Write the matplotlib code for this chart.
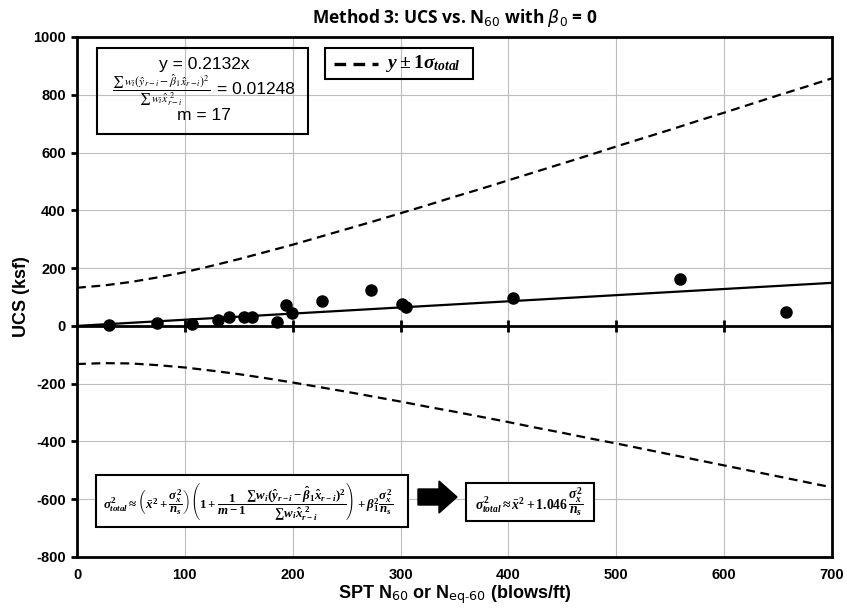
import matplotlib
matplotlib.use("Agg")
import matplotlib.pyplot as plt
from matplotlib.patches import Rectangle, FancyArrow

# measured points (SPT N60, UCS in ksf)
n60 = [30, 74, 107, 131, 141, 155, 162, 185, 194, 199, 227, 273, 301, 305, 404, 559, 657]
ucs = [2, 9, 6, 20, 30, 30, 30, 14, 74, 43, 87, 124, 75, 65, 96, 161, 48]

# fitted line y = 0.2132x, end points
fit_x = [0, 700]
fit_y = [0, 149]

# y +/- 1 sigma_total band, read every 25 blows/ft
band_x = [0, 25, 50, 75, 100, 125, 150, 175, 200, 225, 250, 275, 300, 325, 350,
          375, 400, 425, 450, 475, 500, 525, 550, 575, 600, 625, 650, 675, 700]
band_upper = [132, 140, 152, 168, 186, 208, 231, 256, 281, 308, 335, 362, 390, 418, 447,
              475, 504, 533, 562, 591, 621, 650, 679, 709, 738, 768, 798, 827, 857]
band_lower = [-132, -129, -130, -136, -144, -155, -167, -181, -196, -212, -228, -245, -262, -280, -297,
              -315, -333, -352, -370, -389, -407, -426, -445, -464, -483, -502, -521, -540, -559]

x_ticks = [0, 100, 200, 300, 400, 500, 600, 700]
y_ticks = [-800, -600, -400, -200, 0, 200, 400, 600, 800, 1000]

W, H = 847, 610


def fpos(px, py):
    # pixel position (from top-left) -> figure fraction
    return px / W, 1 - py / H


def box(left, top, right, bottom, fill=False):
    x0, y0 = fpos(left, bottom)
    x1, y1 = fpos(right, top)
    fig.add_artist(Rectangle((x0, y0), x1 - x0, y1 - y0, transform=fig.transFigure,
                             fill=fill, fc="white", ec="black", lw=1.5))


plt.rcParams["axes.unicode_minus"] = False
plt.rcParams["mathtext.fontset"] = "custom"
plt.rcParams["mathtext.rm"] = "Liberation Serif:bold"
plt.rcParams["mathtext.it"] = "Liberation Serif:bold:italic"
plt.rcParams["mathtext.bf"] = "Liberation Serif:bold"

fig = plt.figure(figsize=(W / 100, H / 100), dpi=100)
ax = fig.add_axes([77 / W, 1 - 557 / H, (832 - 77) / W, (557 - 37) / H])

ax.set_xlim(0, 700)
ax.set_ylim(-800, 1000)
ax.set_xticks(x_ticks)
ax.set_yticks(y_ticks)
ax.grid(True, color="#bdbdbd", linewidth=0.8, zorder=0)
ax.set_axisbelow(True)
for s in ax.spines.values():
    s.set_linewidth(2)
    s.set_color("black")

ax.tick_params(axis="x", length=0, pad=8)
ax.tick_params(axis="y", direction="out", length=4, width=2, pad=4)
for lab in ax.get_xticklabels() + ax.get_yticklabels():
    lab.set_fontfamily("Liberation Sans")
    lab.set_fontweight("bold")
    lab.set_fontsize(10.5)

# x axis drawn through zero with cross ticks
ax.axhline(0, color="black", linewidth=2, zorder=2)
ax.plot(x_ticks[1:], [0] * (len(x_ticks) - 1), ls="", marker="|", ms=8, mew=2,
        color="black", zorder=2)

ax.plot(band_x, band_upper, color="black", lw=1.6, dashes=(4, 2.5), zorder=3)
ax.plot(band_x, band_lower, color="black", lw=1.6, dashes=(4, 2.5), zorder=3)
ax.plot(fit_x, fit_y, color="black", lw=1.6, zorder=3)
ax.plot(n60, ucs, ls="", marker="o", ms=8, color="black", zorder=4)

ax.set_xlabel(r"SPT N$_{\mathsf{60}}$ or N$_{\mathsf{eq\text{-}60}}$ (blows/ft)", fontfamily="Liberation Sans",
              fontweight="bold", fontsize=13, labelpad=1)
ax.set_ylabel("UCS (ksf)", fontfamily="Liberation Sans", fontweight="bold", fontsize=13, labelpad=2)
ax.set_title(r"Method 3: UCS vs. N$_{\mathsf{60}}$ with $\beta_{\mathsf{0}}$ = 0", fontfamily="Open Sans",
             fontweight="bold", fontsize=12.5, pad=10, math_fontfamily="dejavusans")

# regression info box
box(97, 48, 308, 134)
fig.text(*fpos(204, 65), "y = 0.2132x", ha="center", va="center",
         fontfamily="Liberation Sans", fontsize=12.5)
fig.text(*fpos(161, 90),
         r"$\dfrac{\sum\, w_i(\hat{y}_{r-i}-\hat{\beta}_1\hat{x}_{r-i})^2}{\sum\, w_i\hat{x}_{r-i}^{\ 2}}$",
         ha="center", va="center", fontsize=8.5, math_fontfamily="stix")
fig.text(*fpos(217, 90), "= 0.01248", ha="left", va="center",
         fontfamily="Liberation Sans", fontsize=12.5)
fig.text(*fpos(204, 116), "m = 17", ha="center", va="center",
         fontfamily="Liberation Sans", fontsize=12.5)

# legend box
box(325, 48, 473, 79)
lx0, ly = fpos(334, 64)
lx1, _ = fpos(378, 64)
fig.add_artist(plt.Line2D([lx0, lx1], [ly, ly], transform=fig.transFigure,
                          color="black", lw=2.4, dashes=(3.5, 2.2)))
fig.text(*fpos(386, 64), r"$y \pm 1\sigma_{total}$", ha="left", va="center",
         fontsize=14, math_fontfamily="custom")

# sigma_total equations
box(96, 475, 408, 527, fill=True)
fig.text(*fpos(248, 501),
         r"$\sigma_{total}^2 \approx \left(\bar{x}^2+\dfrac{\sigma_x^2}{n_s}\right)"
         r"\left(1+\dfrac{1}{m-1}\dfrac{\sum w_i(\hat{y}_{r-i}-\hat{\beta}_1\hat{x}_{r-i})^2}"
         r"{\sum w_i\hat{x}_{r-i}^{\ 2}}\right)+\beta_1^2\dfrac{\sigma_x^2}{n_s}$",
         ha="center", va="center", fontsize=9.3, math_fontfamily="custom")

ax0, ay = fpos(418, 497)
ax1, _ = fpos(457, 497)
fig.add_artist(FancyArrow(ax0, ay, ax1 - ax0, 0, width=16 / H, head_width=32 / H,
                          head_length=18 / W, length_includes_head=True,
                          transform=fig.transFigure, color="black"))

box(466, 483, 594, 521, fill=True)
fig.text(*fpos(529, 502), r"$\sigma_{total}^2 \approx \bar{x}^2+1.046\,\dfrac{\sigma_x^2}{n_s}$",
         ha="center", va="center", fontsize=9.8, math_fontfamily="custom")

fig.savefig("out.png", dpi=100)
